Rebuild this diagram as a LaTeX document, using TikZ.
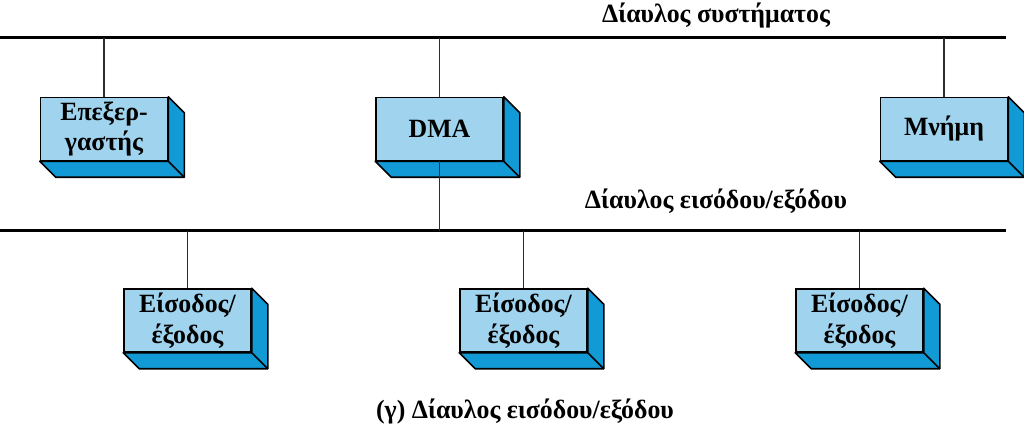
\documentclass[tikz,border=0pt]{standalone}
\usepackage{fontspec}
\setmainfont{Liberation Serif}[FakeStretch=0.98]
\usetikzlibrary{positioning,calc}
\definecolor{faceblue}{RGB}{160,212,238}
\definecolor{sideblue}{RGB}{18,154,214}
\definecolor{linkgray}{RGB}{45,45,45}
\tikzset{
    bus/.style  = {line width=1.7pt, draw=black},
    link/.style = {line width=1pt, draw=linkgray},
    unit/.style = {rectangle, draw=black, line width=0.9pt, fill=faceblue, align=center,
                   minimum width=2.54cm, minimum height=1.26cm, inner sep=1pt,
                   font=\fontsize{15}{17.5}\selectfont\bfseries},
    side/.style = {fill=sideblue, draw=black, line width=0.9pt, line join=round},
    buslabel/.style = {font=\fontsize{15}{17.5}\selectfont\bfseries}
}
\begin{document}
\begin{tikzpicture}
    \useasboundingbox (0,0) rectangle (20.48,8.58);

    % Buses
    \coordinate (sysL) at (0, 7.82);
    \coordinate (sysR) at (20.12, 7.82);
    \coordinate (ioL) at (0, 3.96);
    \coordinate (ioR) at (20.12, 3.96);
    \draw[bus] (sysL) -- (sysR);
    \draw[bus] (ioL) -- (ioR);
    \node[buslabel] (syslbl) at (14.32, 8.26) {Δίαυλος συστήματος};
    \node[buslabel] (iolbl) at (14.32, 4.56) {Δίαυλος εισόδου/εξόδου};

    % Units on the system bus
    \node[unit] (cpu) at (2.08, 6.00) {Επεξερ-\\γαστής};
    \node[unit] (dma) at (8.79, 6.00) {DMA};
    \node[unit] (mem) at (18.88, 6.00) {Μνήμη};

    % Units on the I/O bus
    \node[unit] (io1) at (3.75, 2.17) {Είσοδος/\\έξοδος};
    \node[unit] (io2) at (10.47, 2.17) {Είσοδος/\\έξοδος};
    \node[unit] (io3) at (17.19, 2.17) {Είσοδος/\\έξοδος};

    % Box depth
    \foreach \n in {cpu,dma,mem,io1,io2,io3} {
        \filldraw[side] (\n.north east) -- ++(0.32,-0.32) |- ($(\n.south west)+(0.32,-0.32)$)
            -- (\n.south west) -- (\n.south east) -- cycle;
        \draw[side, fill=none] (\n.south east) -- ++(0.32,-0.32);
    }

    % Links
    \foreach \n in {cpu,dma,mem}
        \draw[link] (\n.north) -- (\n.north |- sysL);
    \draw[link] (dma.south) -- (dma.south |- ioL);
    \foreach \n in {io1,io2,io3}
        \draw[link] (\n.north) -- (\n.north |- ioL);

    % Caption
    \node[buslabel] (caption) at (10.5, 0.34) {(γ) Δίαυλος εισόδου/εξόδου};
\end{tikzpicture}
\end{document}
